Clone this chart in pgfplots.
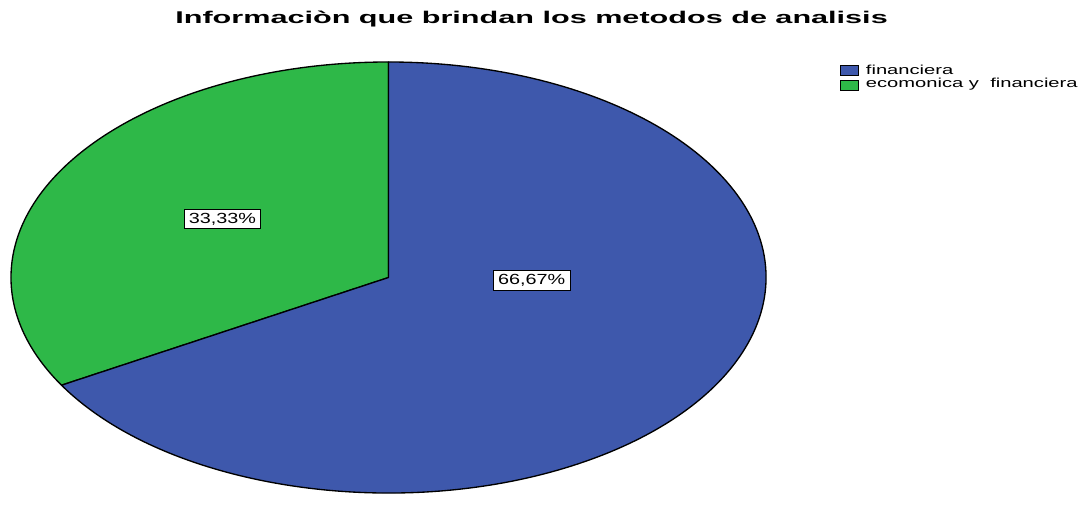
\documentclass[border=0pt]{standalone}
\usepackage{fontspec}
\setmainfont{Liberation Sans}
\newfontfamily\titlefont[FakeStretch=1.8]{Liberation Sans}
\newfontfamily\legfont[FakeStretch=1.55]{Liberation Sans}
\newfontfamily\labfont[FakeStretch=1.35]{Liberation Sans}
\usepackage{pgfplots}
\usepackage{pgfplotstable}
\pgfplotsset{compat=1.18}
\definecolor{pieblue}{RGB}{62,88,172}
\definecolor{piegreen}{RGB}{46,184,72}

\pgfplotstableread{
label value
financiera 66.67
economica 33.33
}\piedata

\begin{document}
\begin{tikzpicture}
\pgfplotstablegetelem{0}{value}\of\piedata \pgfmathsetmacro{\vA}{\pgfplotsretval}
\pgfplotstablegetelem{1}{value}\of\piedata \pgfmathsetmacro{\vB}{\pgfplotsretval}
\pgfmathsetmacro{\gStart}{90}
\pgfmathsetmacro{\gEnd}{90+3.6*\vB}
\pgfmathsetmacro{\bEnd}{\gEnd+3.6*\vA}
\begin{axis}[
  scale only axis, width=815.25pt, height=370.5pt,
  xmin=-1.0291, xmax=1.8503, ymin=-1.0046, ymax=1.2877,
  hide axis, clip=false]
% keep the whole axis area as the picture's bounding box
\path (rel axis cs:0,0) rectangle (rel axis cs:1,1);
\filldraw[fill=piegreen, draw=black, line width=1pt, line join=round]
  (axis cs:0,0) -- (axis cs:0,1) arc[start angle=\gStart, end angle=\gEnd, x radius=1, y radius=1] -- cycle;
\filldraw[fill=pieblue, draw=black, line width=1pt, line join=round]
  (axis cs:0,0) -- (axis cs:{cos(\gEnd)},{sin(\gEnd)}) arc[start angle=\gEnd, end angle=\bEnd, x radius=1, y radius=1] -- cycle;
\node[fill=white, draw=black, line width=0.6pt, inner xsep=3.5pt, inner ysep=2.5pt, text height=8pt, text depth=1.5pt,
  font=\labfont\fontsize{11}{13}\selectfont] at (axis cs:-0.4397,0.2722) {33,33\%};
\node[fill=white, draw=black, line width=0.6pt, inner xsep=3.5pt, inner ysep=2.5pt, text height=8pt, text depth=1.5pt,
  font=\labfont\fontsize{11}{13}\selectfont] at (axis cs:0.3793,-0.013) {66,67\%};
% title
\node[anchor=base, font=\titlefont\bfseries\fontsize{12.75}{15}\selectfont] at (rel axis cs:0.489,0.9514)
  {Informaciòn que brindan los metodos de analisis};
% legend
\filldraw[fill=pieblue, draw=black, line width=0.6pt] (rel axis cs:0.7728,0.8684) rectangle (rel axis cs:0.7898,0.8482);
\filldraw[fill=piegreen, draw=black, line width=0.6pt] (rel axis cs:0.7728,0.8381) rectangle (rel axis cs:0.7898,0.8178);
\node[anchor=base west, inner sep=0pt, font=\legfont\fontsize{9.75}{11}\selectfont] at (rel axis cs:0.7964,0.8488) {financiera};
\node[anchor=base west, inner sep=0pt, font=\legfont\fontsize{9.75}{11}\selectfont] at (rel axis cs:0.7964,0.8233) {ecomonica y\ \ financiera};
\end{axis}
\end{tikzpicture}
\end{document}
